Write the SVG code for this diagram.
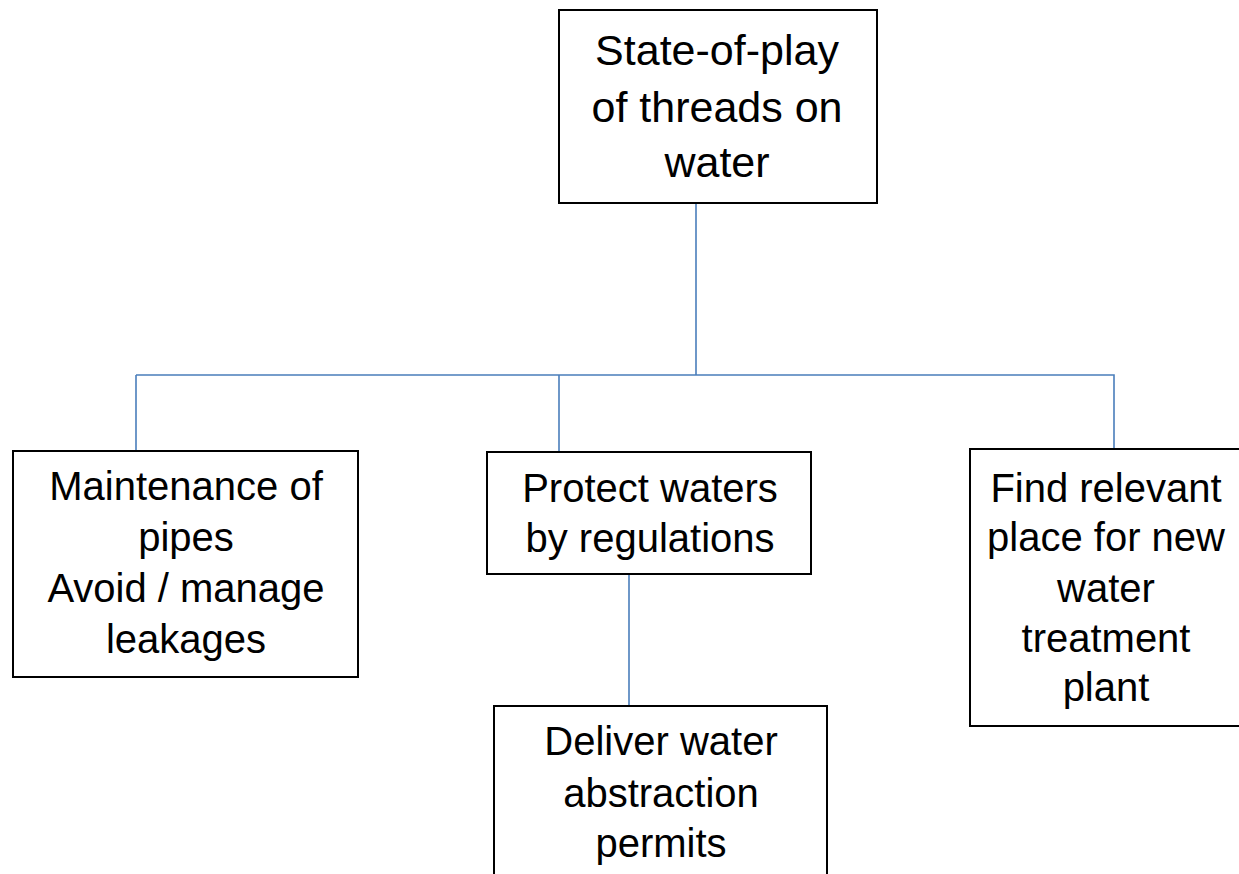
<svg xmlns="http://www.w3.org/2000/svg" width="1239" height="874" viewBox="0 0 1239 874">
<style>
.box{fill:#fff;stroke:#000;stroke-width:2}
.lbl{font-family:"Liberation Sans",Arial,sans-serif;font-size:40px;fill:#000;text-anchor:middle}
.big{font-size:43px}
.conn{fill:none;stroke:#4a7ebb;stroke-width:1.6}
</style>
<rect width="1239" height="874" fill="#fff"/>
<g id="connectors">
<path class="conn" d="M696,204 V375"/>
<path class="conn" d="M136,375 H1114 V449"/>
<path class="conn" d="M136,375 V451"/>
<path class="conn" d="M559,375 V452"/>
<path class="conn" d="M629,574 V706"/>
</g>
<g id="root">
<rect class="box" x="559" y="10" width="318" height="193"/>
<text class="lbl big" x="717" y="65">State-of-play</text>
<text class="lbl big" x="717" y="122">of threads on</text>
<text class="lbl big" x="717" y="177">water</text>
</g>
<g id="maintenance">
<rect class="box" x="13" y="451" width="345" height="226"/>
<text class="lbl" x="186" y="500">Maintenance of</text>
<text class="lbl" x="186" y="551">pipes</text>
<text class="lbl" x="186" y="602">Avoid / manage</text>
<text class="lbl" x="186" y="653">leakages</text>
</g>
<g id="protect">
<rect class="box" x="487" y="452" width="324" height="122"/>
<text class="lbl" x="650" y="502">Protect waters</text>
<text class="lbl" x="650" y="552">by regulations</text>
</g>
<g id="deliver">
<rect class="box" x="494" y="706" width="333" height="180"/>
<text class="lbl" x="661" y="755">Deliver water</text>
<text class="lbl" x="661" y="807">abstraction</text>
<text class="lbl" x="661" y="857">permits</text>
</g>
<g id="find">
<rect class="box" x="970" y="449" width="272" height="277"/>
<text class="lbl" x="1106" y="502">Find relevant</text>
<text class="lbl" x="1106" y="551">place for new</text>
<text class="lbl" x="1106" y="602">water</text>
<text class="lbl" x="1106" y="652">treatment</text>
<text class="lbl" x="1106" y="701">plant</text>
</g>
</svg>
